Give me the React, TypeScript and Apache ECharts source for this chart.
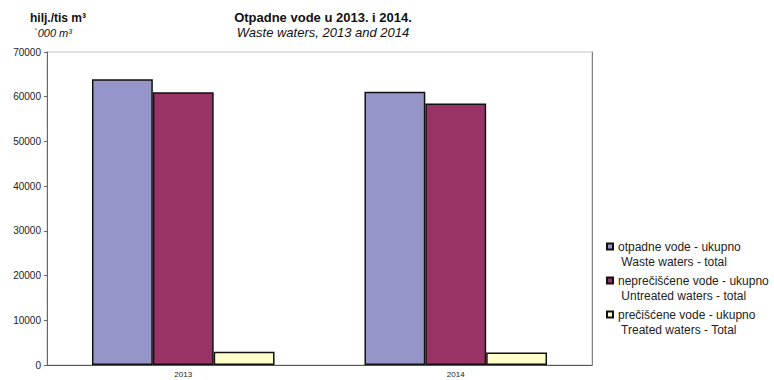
import React, { useEffect, useRef } from "react";
import * as echarts from "echarts";

const categories = ["2013", "2014"];
const wasteTotal = [63900, 61100];
const untreatedTotal = [61000, 58500];
const treatedTotal = [2950, 2800];
const seriesNames = [
  "otpadne vode - ukupno\nWaste waters - total",
  "neprečišćene vode - ukupno\nUntreated waters - total",
  "prečišćene vode - ukupno\nTreated waters - Total",
];
const colors = ["#9595C9", "#993366", "#FFFFCC"];

export default function App() {
  const ref = useRef<HTMLDivElement>(null);
  useEffect(() => {
    if (!ref.current) return;
    const chart = echarts.init(ref.current, null, { renderer: "svg" });
    const font = "'Liberation Sans', Arial, sans-serif";
    const mk = (name: string, data: number[], color: string) => ({
      name,
      type: "bar",
      data,
      barGap: "0%",
      barCategoryGap: "33%",
      itemStyle: { color, borderColor: "#111", borderWidth: 1.5 },
    });
    chart.setOption({
      animation: false,
      backgroundColor: "#fff",
      textStyle: { fontFamily: font },
      title: [
        {
          text: "Otpadne vode u 2013. i 2014.",
          left: 318,
          top: 6,
          textAlign: "center",
          textStyle: { fontSize: 13, fontWeight: "bold", color: "#111", fontFamily: font },
        },
        {
          text: "Waste waters, 2013 and 2014",
          left: 318,
          top: 21,
          textAlign: "center",
          textStyle: { fontSize: 13, fontWeight: "normal", fontStyle: "italic", color: "#111", fontFamily: font },
        },
        {
          text: "hilj./tis m³",
          left: 53,
          top: 7,
          textAlign: "center",
          textStyle: { fontSize: 12, fontWeight: "bold", color: "#111", fontFamily: font },
        },
        {
          text: "`000 m³",
          left: 48,
          top: 22,
          textAlign: "center",
          textStyle: { fontSize: 11, fontWeight: "normal", fontStyle: "italic", color: "#111", fontFamily: font },
        },
      ],
      legend: {
        orient: "vertical",
        left: 601,
        top: 219,
        itemWidth: 6,
        itemHeight: 6,
        itemGap: -11,
        icon: "rect",
        formatter: (name: string) => " \n" + name.replace("\n", "\n "),
        textStyle: {
          fontSize: 12,
          color: "#222",
          lineHeight: 15,
          fontFamily: font,
        },
        data: seriesNames,
      },
      grid: {
        left: 47,
        right: 182,
        top: 52,
        bottom: 15,
        show: true,
        borderColor: "#c4c4c4",
        borderWidth: 1,
      },
      xAxis: {
        type: "category",
        data: categories,
        axisLine: { show: true, lineStyle: { color: "#555", width: 1 } },
        axisTick: { show: false },
        axisLabel: { fontSize: 8, color: "#222", margin: 5 },
      },
      yAxis: [
        {
          type: "value",
          min: 0,
          max: 70000,
          interval: 10000,
          axisLine: { show: true, lineStyle: { color: "#666", width: 1 } },
          axisTick: { show: true, length: 3, lineStyle: { color: "#666" } },
          splitLine: { show: false },
          axisLabel: { fontSize: 10, color: "#222", margin: 6, formatter: (v: number) => String(v) },
        },
        {
          type: "value",
          position: "right",
          min: 0,
          max: 70000,
          interval: 10000,
          axisLine: { show: true, lineStyle: { color: "#808080", width: 1 } },
          axisTick: { show: false },
          axisLabel: { show: false },
          splitLine: { show: false },
        },
      ],
      series: [
        mk(seriesNames[0], wasteTotal, colors[0]),
        mk(seriesNames[1], untreatedTotal, colors[1]),
        mk(seriesNames[2], treatedTotal, colors[2]),
      ],
    });
    return () => chart.dispose();
  }, []);
  return <div ref={ref} style={{ width: 774, height: 380, position: "absolute", left: 0, top: 0 }} />;
}
